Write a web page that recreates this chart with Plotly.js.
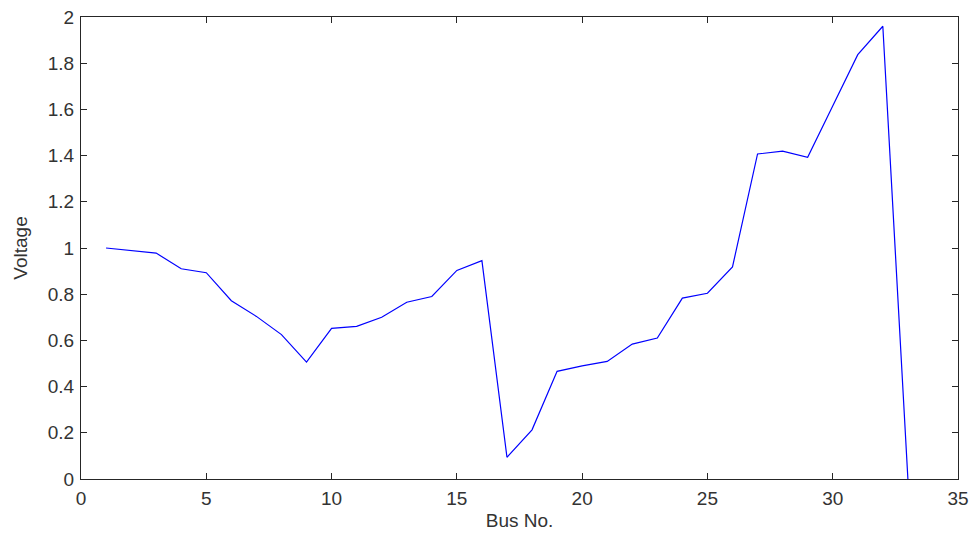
<!DOCTYPE html>
<html>
<head>
<meta charset="utf-8">
<script src="https://cdn.plot.ly/plotly-3.0.1.min.js"></script>
<style>html,body{margin:0;padding:0;background:#fff;}#chart{width:974px;height:539px;}</style>
</head>
<body>
<div id="chart"></div>
<script>
const busNo = [1,2,3,4,5,6,7,8,9,10,11,12,13,14,15,16,17,18,19,20,21,22,23,24,25,26,27,28,29,30,31,32,33];
const voltage = [1.0,0.99,0.978,0.91,0.893,0.772,0.704,0.625,0.506,0.652,0.661,0.70,0.765,0.79,0.903,0.945,0.094,0.213,0.466,0.49,0.509,0.584,0.61,0.783,0.804,0.918,1.407,1.419,1.393,1.615,1.837,1.96,0.0];
const xTicks = [0,5,10,15,20,25,30,35];
const yTicks = [0,0.2,0.4,0.6,0.8,1,1.2,1.4,1.6,1.8,2];
const yTickText = ['0','0.2','0.4','0.6','0.8','1','1.2','1.4','1.6','1.8','2'];

const fontFam = 'Liberation Sans, Arial, sans-serif';
const axisCommon = {
  showgrid:false, zeroline:false, showline:true, linecolor:'#262626', linewidth:1,
  mirror:'ticks', ticks:'inside', ticklen:6, tickcolor:'#262626', tickwidth:1,
  tickfont:{family:fontFam, size:19, color:'#333'}
};

Plotly.newPlot('chart', [{
  x: busNo, y: voltage, type:'scatter', mode:'lines',
  line:{color:'#0000ff', width:1.2}
}], {
  width:974, height:539,
  margin:{l:81, r:16, t:17, b:60},
  paper_bgcolor:'#fff', plot_bgcolor:'#fff',
  showlegend:false,
  xaxis: Object.assign({}, axisCommon, {
    range:[0,35], tickvals:xTicks, ticktext:xTicks.map(String),
    ticklabelstandoff:2,
    title:{text:'Bus No.', font:{family:fontFam, size:19, color:'#333'}, standoff:5}
  }),
  yaxis: Object.assign({}, axisCommon, {
    range:[0,2], tickvals:yTicks, ticktext:yTickText,
    ticklabelstandoff:2,
    title:{text:'Voltage', font:{family:fontFam, size:19, color:'#333'}, standoff:15}
  })
}, {displayModeBar:false, staticPlot:true});
</script>
</body>
</html>
